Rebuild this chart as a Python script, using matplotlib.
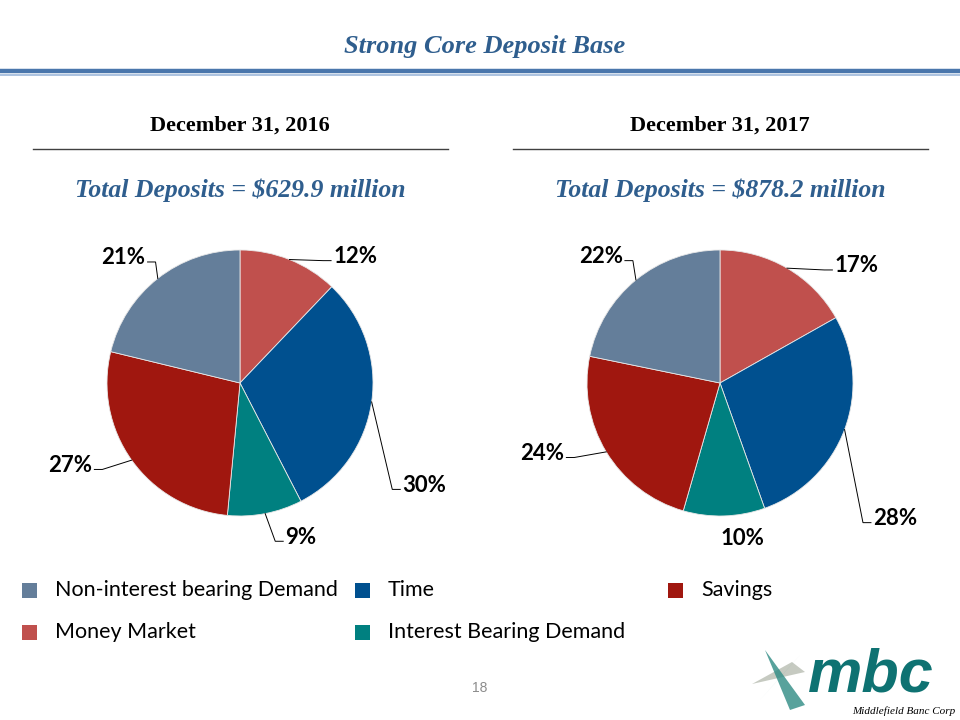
import numpy as np
import matplotlib
matplotlib.use("Agg")
import matplotlib.pyplot as plt
from matplotlib.patches import Rectangle, Polygon
from matplotlib.lines import Line2D

# Data
categories = ["Money Market", "Time", "Interest Bearing Demand", "Savings",
              "Non-interest bearing Demand"]
share_2016 = [12, 30, 9, 27, 21]
share_2017 = [17, 28, 10, 24, 22]
period_titles = ["December 31, 2016", "December 31, 2017"]
totals = ["Total Deposits = $629.9 million", "Total Deposits = $878.2 million"]

colors = {"Money Market": "#C0504D", "Time": "#00508F",
          "Interest Bearing Demand": "#008080", "Savings": "#A0170F",
          "Non-interest bearing Demand": "#647E9A"}

# label anchor points in pie-radius units (layout only), with leader flag
label_pos_2016 = [(0.70, 0.95), (1.22, -0.77), (0.34, -1.16), (-1.11, -0.62), (-0.71, 0.94)]
label_pos_2017 = [(0.86, 0.88), (1.15, -1.02), (0.17, -1.17), (-1.17, -0.53), (-0.73, 0.95)]
leader_2017 = [True, True, False, True, True]
leader_2016 = [True, True, True, True, True]

# legend entries as laid out on the slide (pixel positions of the swatches)
legend_order = ["Non-interest bearing Demand", "Time", "Savings",
                "Money Market", "Interest Bearing Demand"]
legend_xy = [(22, 590), (355, 590), (668, 590), (22, 632), (355, 632)]

W, H = 960, 720
fig = plt.figure(figsize=(9.6, 7.2), dpi=100)

title_blue = "#2F5E8E"
serif = "Liberation Serif"

# header
fig.text(485 / W, 1 - 47 / H, "Strong Core Deposit Base", ha="center", va="center",
         family=serif, style="italic", weight="bold", fontsize=19, color=title_blue)
fig.add_artist(Line2D([0, 1], [1 - 71 / H, 1 - 71 / H], color="#4A76AC", lw=3.2))
fig.add_artist(Line2D([0, 1], [1 - 74.5 / H, 1 - 74.5 / H], color="#9DB8DA", lw=1.2))

R = 133.0
centers = [(240, 383), (720, 383)]
half = 200.0
lim = half / R


def draw_pie(cx, cy, values, title, total, label_pos, leaders):
    fig.text(cx / W, 1 - 126 / H, title, ha="center", va="center", family=serif,
             weight="bold", fontsize=16, color="black")
    fig.add_artist(Line2D([(cx - 207) / W, (cx + 208) / W], [1 - 149 / H, 1 - 149 / H],
                          color="#404040", lw=1.0))
    fig.text(cx / W, 1 - 190 / H, total, ha="center", va="center", family=serif,
             style="italic", weight="bold", fontsize=18.5, color=title_blue)

    ax = fig.add_axes([(cx - half) / W, (H - cy - half) / H, 2 * half / W, 2 * half / H])
    wedges, _ = ax.pie(values, colors=[colors[c] for c in categories], startangle=90,
                       counterclock=False, radius=1.0,
                       wedgeprops=dict(edgecolor="#E8E8E8", linewidth=0.6))
    ax.set_xlim(-lim, lim)
    ax.set_ylim(-lim, lim)
    ax.set_aspect("equal")
    ax.axis("off")
    for w, v, (lx, ly), lead in zip(wedges, values, label_pos, leaders):
        mid = np.deg2rad((w.theta1 + w.theta2) / 2)
        ex, ey = np.cos(mid), np.sin(mid)
        if not lead:
            ax.text(lx, ly, f"{v}%", ha="center", va="center", family="Lato",
                    weight="bold", fontsize=16, color="black")
            continue
        side = 1 if lx > 0 else -1
        ha = "left" if side > 0 else "right"
        ax.text(lx, ly, f"{v}%", ha=ha, va="center", family="Lato",
                weight="bold", fontsize=16, color="black")
        gap, stub = 0.015, 0.06
        end_x = lx - side * gap
        elb_x = end_x - side * stub
        ax.plot([ex, elb_x, end_x], [ey, ly - 0.03, ly - 0.03], color="black", lw=0.7,
                solid_joinstyle="miter")
    return wedges


for (cx, cy), vals, t, tot, lp, ld in zip(centers, [share_2016, share_2017], period_titles,
                                           totals, [label_pos_2016, label_pos_2017],
                                           [leader_2016, leader_2017]):
    draw_pie(cx, cy, vals, t, tot, lp, ld)

# legend drawn like the slide (rows filled left to right)
sw = 15
for name, (x, y) in zip(legend_order, legend_xy):
    fig.add_artist(Rectangle((x / W, 1 - (y + sw / 2) / H), sw / W, sw / H,
                             facecolor=colors[name], edgecolor="none"))
    fig.text((x + 33) / W, 1 - y / H, name, ha="left", va="center", family="Lato",
             fontsize=15.5, color="black")

# page number
fig.text(480 / W, 1 - 688 / H, "18", ha="center", va="center", family="Liberation Sans",
         fontsize=10, color="#8C8C8C")

# logo stand-in
fig.add_artist(Polygon([(752 / W, 1 - 684 / H), (805 / W, 1 - 672 / H), (792 / W, 1 - 662 / H)],
                       closed=True, facecolor="#B8BDB2", alpha=0.8, edgecolor="none"))
fig.add_artist(Polygon([(765 / W, 1 - 650 / H), (805 / W, 1 - 705 / H), (790 / W, 1 - 710 / H)],
                       closed=True, facecolor="#2E8B84", alpha=0.8, edgecolor="none"))
fig.add_artist(Polygon([(760 / W, 1 - 700 / H), (800 / W, 1 - 655 / H), (785 / W, 1 - 672 / H)],
                       closed=True, facecolor="#5FA8A0", alpha=0.7, edgecolor="none"))
fig.text(808 / W, 1 - 676 / H, "mbc", ha="left", va="center", family="Liberation Sans",
         style="italic", weight="bold", fontsize=44, color="#0E7272")
fig.text(852 / W, 1 - 711 / H, "Middlefield Banc Corp", ha="left", va="center",
         family=serif, style="italic", fontsize=8, color="black")

fig.savefig("out.png", dpi=100)
